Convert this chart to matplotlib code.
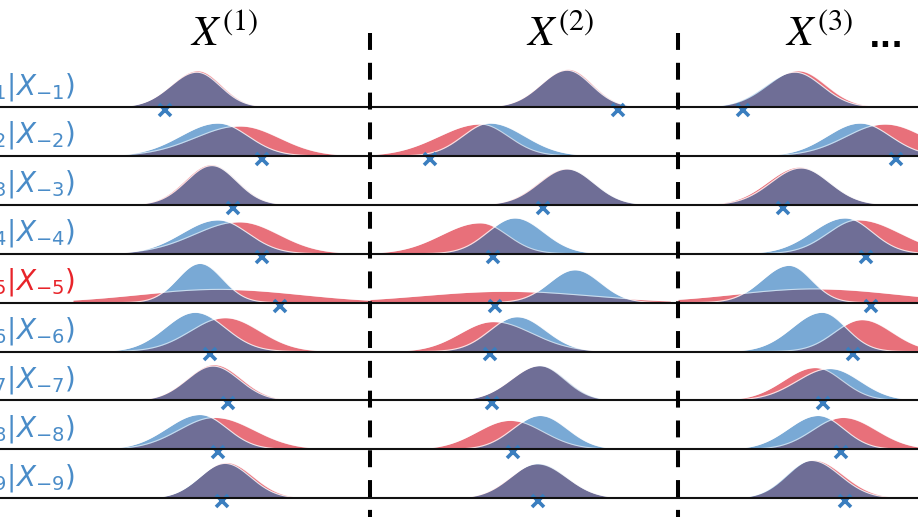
import numpy as np
import matplotlib
matplotlib.use("Agg")
import matplotlib.pyplot as plt
from matplotlib.lines import Line2D

plt.rcParams['mathtext.fontset'] = 'dejavusans'

# column headers
titles = [r'$X^{(1)}$', r'$X^{(2)}$', r'$X^{(3)}$']
n_rows = 9
rows = [str(i + 1) for i in range(n_rows)]
red_row = 4  # p(x_5|x_-5) is the one shown in red

# per panel parameters, rows x [col1, col2, col3]
# split-normal: centre, left spread, right spread, peak height (x in 0..10, y in 0..1)
blue_mu = [[4.13, 6.57, 3.90], [4.83, 4.00, 6.07], [4.63, 6.57, 4.10],
           [4.83, 4.83, 5.57], [4.23, 6.83, 3.70], [4.07, 4.90, 4.80],
           [4.67, 5.67, 5.07], [4.23, 5.67, 4.67], [5.07, 5.60, 4.45]]
blue_sl = [[0.87, 0.87, 1.00], [1.25, 0.90, 1.10], [0.85, 0.93, 1.00],
           [1.20, 0.90, 1.10], [0.75, 0.85, 0.90], [1.00, 0.90, 1.00],
           [0.87, 0.95, 1.10], [1.10, 0.90, 1.00], [0.85, 0.90, 0.85]]
blue_sr = [[0.77, 0.80, 0.90], [1.00, 1.15, 1.00], [0.82, 0.90, 0.95],
           [1.00, 0.95, 0.90], [0.75, 0.85, 0.75], [1.00, 0.95, 0.80],
           [0.87, 0.85, 1.00], [0.90, 0.90, 0.85], [0.85, 0.95, 0.95]]
blue_h = [[0.71, 0.75, 0.71], [0.67, 0.67, 0.67], [0.80, 0.73, 0.75],
          [0.69, 0.73, 0.73], [0.80, 0.67, 0.76], [0.80, 0.71, 0.80],
          [0.70, 0.71, 0.65], [0.71, 0.69, 0.69], [0.71, 0.71, 0.77]]

red_mu = [[4.15, 6.60, 4.00], [5.57, 3.67, 6.90], [4.60, 6.55, 4.05],
          [5.55, 3.67, 6.00], [4.90, 4.50, 4.60], [5.07, 4.10, 6.13],
          [4.70, 5.65, 4.57], [4.73, 4.67, 5.50], [5.10, 5.58, 4.50]]
red_sl = [[0.88, 0.90, 1.00], [1.50, 1.40, 1.30], [0.87, 0.95, 1.05],
          [1.50, 1.30, 1.00], [2.70, 2.80, 2.70], [1.15, 1.10, 0.90],
          [0.90, 0.95, 1.05], [1.20, 1.10, 1.00], [0.85, 0.92, 0.85]]
red_sr = [[0.78, 0.80, 0.92], [1.30, 0.95, 1.30], [0.85, 0.90, 0.98],
          [1.30, 0.90, 1.40], [2.70, 2.80, 2.70], [1.15, 1.30, 1.00],
          [0.90, 0.83, 0.90], [1.30, 1.10, 1.10], [0.90, 0.97, 1.00]]
red_h = [[0.74, 0.77, 0.74], [0.61, 0.65, 0.65], [0.82, 0.74, 0.77],
         [0.65, 0.63, 0.69], [0.27, 0.23, 0.28], [0.69, 0.61, 0.65],
         [0.73, 0.71, 0.67], [0.65, 0.59, 0.65], [0.73, 0.70, 0.78]]

# observed value (the blue cross)
cross_x = [[3.07, 8.27, 2.17], [6.30, 2.00, 7.27], [5.33, 5.77, 3.50],
           [6.30, 4.10, 6.27], [6.90, 4.17, 6.43], [4.57, 4.00, 5.83],
           [5.17, 4.07, 4.83], [4.83, 4.77, 5.43], [4.97, 5.60, 5.57]]

W, H = 918, 517
col_left = [73, 370, 678]
col_w = 300
row_base = [107 + 48.9 * i for i in range(n_rows)]
row_h = 49

c_blue = '#79a9d5'
c_red = '#e8707a'
c_both = '#6f6e96'
c_cross = '#3a7ebf'


def split_normal(x, mu, sl, sr, h):
    s = np.where(x < mu, sl, sr)
    return h * np.exp(-0.5 * ((x - mu) / s) ** 2)


def fx(px):
    return px / W


def fy(py):
    return 1 - py / H


fig = plt.figure(figsize=(W / 100, H / 100), dpi=100)
xs = np.linspace(0, 10, 600)

for r in range(n_rows):
    for c in range(3):
        ax = fig.add_axes([fx(col_left[c]), fy(row_base[r]), col_w / W, row_h / H])
        ax.set_xlim(0, 10)
        ax.set_ylim(0, 1)
        ax.axis('off')
        b = split_normal(xs, blue_mu[r][c], blue_sl[r][c], blue_sr[r][c], blue_h[r][c])
        rd = split_normal(xs, red_mu[r][c], red_sl[r][c], red_sr[r][c], red_h[r][c])
        ax.fill_between(xs, 0, rd, color=c_red, lw=0)
        ax.fill_between(xs, 0, b, color=c_blue, lw=0)
        ax.fill_between(xs, 0, np.minimum(b, rd), color=c_both, lw=0)
        ax.plot(xs, rd, color='white', lw=0.8, alpha=0.6)
        ax.plot(xs, b, color='white', lw=0.8, alpha=0.8)
        ax.plot([cross_x[r][c]], [-0.06], marker='x', color=c_cross,
                ms=8.5, mew=2.6, clip_on=False, zorder=5)

# baselines across the whole width
for r in range(n_rows):
    fig.add_artist(Line2D([0, 1], [fy(row_base[r])] * 2, color='#111111',
                          lw=1.5, transform=fig.transFigure))

# dashed separators between the samples
for px in col_left[1:]:
    fig.add_artist(Line2D([fx(px)] * 2, [fy(33), 0], color='black', lw=2.9,
                          linestyle=(0, (4.2, 3.2)), transform=fig.transFigure))

# column headers
title_x = [224, 560, 819]
for t, px in zip(titles, title_x):
    fig.text(fx(px), fy(46), t, fontsize=31, ha='center', va='baseline',
             math_fontfamily='stix')
fig.text(fx(886), fy(47), '...', fontsize=22, ha='center', va='baseline',
         fontweight='bold')

# row labels (cut at the left edge like the original)
for r in range(n_rows):
    col = '#e8242a' if r == red_row else '#4a8cc8'
    lab = r'$p(X_{%s}|X_{-%s})$' % (rows[r], rows[r])
    fig.text(fx(75), fy(row_base[r] - 13), lab, fontsize=20, color=col,
             ha='right', va='baseline')

fig.savefig('out.png', dpi=100)
